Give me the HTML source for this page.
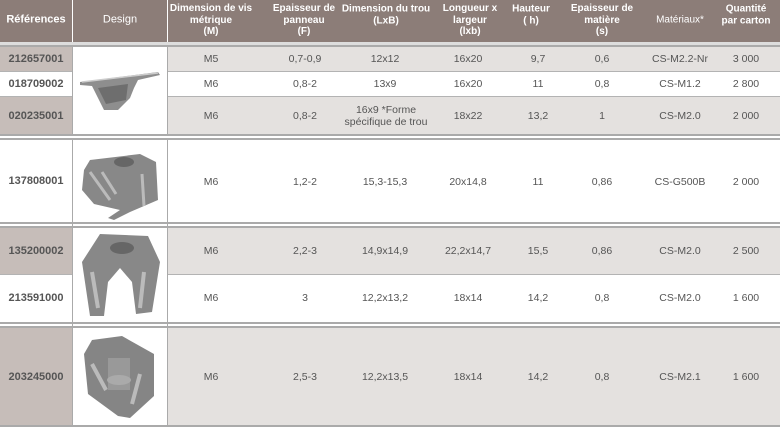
<!DOCTYPE html>
<html><head><meta charset="utf-8"><style>
body{margin:0;width:780px;height:429px;position:relative;overflow:hidden;background:#fff;font-family:"Liberation Sans",sans-serif;}
div{position:absolute;box-sizing:border-box}
.t{transform:translate(-50%,-50%);text-align:center;white-space:nowrap;font-size:10.5px;color:#555;line-height:12px}
.h{transform:translate(-50%,-50%);text-align:center;white-space:nowrap;font-size:10px;color:#fff;font-weight:bold;line-height:11.5px}
.r{transform:translate(-50%,-50%);font-size:11px;font-weight:bold;color:#555;white-space:nowrap}
.g{background:#e4e1df}
.rg{background:#c6bdb9}
.ln{background:#b3b3b3;height:1px;left:0;width:780px}
.dl{background:#aaa;height:2px;left:0;width:780px}
</style></head><body>
<div style="left:0;top:0;width:780px;height:42px;background:#8c7d78"></div>
<div style="left:72px;top:0;width:1px;height:42px;background:#fff"></div>
<div style="left:167px;top:0;width:1px;height:42px;background:#fff"></div>
<div style="left:0;top:42px;width:780px;height:3px;background:#ddd"></div>
<div class="dl" style="top:45px"></div>
<div class="h" style="left:36px;top:20px;font-size:11px">Références</div>
<div class="h" style="left:120px;top:20px;font-weight:normal;font-size:11px">Design</div>
<div class="h" style="left:211px;top:20px">Dimension de vis<br>métrique<br>(M)</div>
<div class="h" style="left:304px;top:20px">Epaisseur de<br>panneau<br>(F)</div>
<div class="h" style="left:386px;top:15px">Dimension du trou<br>(LxB)</div>
<div class="h" style="left:470px;top:20px">Longueur x<br>largeur<br>(lxb)</div>
<div class="h" style="left:531px;top:15px">Hauteur<br>( h)</div>
<div class="h" style="left:602px;top:20px">Epaisseur de<br>matière<br>(s)</div>
<div class="h" style="left:680px;top:20px;font-weight:normal">Matériaux*</div>
<div class="h" style="left:746px;top:15px">Quantité<br>par carton</div>

<!-- row backgrounds -->
<div class="rg" style="left:0;top:47px;width:72px;height:24px"></div>
<div class="g" style="left:168px;top:47px;width:612px;height:24px"></div>
<div class="rg" style="left:0;top:97px;width:72px;height:37px"></div>
<div class="g" style="left:168px;top:97px;width:612px;height:37px"></div>
<div class="rg" style="left:0;top:227px;width:72px;height:47px"></div>
<div class="g" style="left:168px;top:227px;width:612px;height:47px"></div>
<div class="rg" style="left:0;top:327px;width:72px;height:98px"></div>
<div class="g" style="left:168px;top:327px;width:612px;height:98px"></div>

<div class="ln" style="top:71px;left:0;width:73px"></div><div class="ln" style="top:71px;left:167px;width:613px"></div>
<div class="ln" style="top:96px;left:0;width:73px"></div><div class="ln" style="top:96px;left:167px;width:613px"></div>
<div class="ln" style="top:274px;left:0;width:73px"></div><div class="ln" style="top:274px;left:167px;width:613px"></div>
<div class="dl" style="top:134px"></div><div class="dl" style="top:138px"></div>
<div class="dl" style="top:222px"></div><div class="dl" style="top:226px"></div>
<div class="dl" style="top:322px"></div><div class="dl" style="top:326px"></div>
<div class="dl" style="top:425px"></div>
<div style="left:72px;top:47px;width:1px;height:378px;background:#aaa"></div>
<div style="left:167px;top:47px;width:1px;height:378px;background:#aaa"></div>
<div style="left:72px;top:134px;width:96px;height:6px;background:#fff"></div>
<div style="left:72px;top:134px;width:96px;height:2px;background:#aaa"></div>
<div style="left:72px;top:138px;width:96px;height:2px;background:#aaa"></div>

<!-- images -->
<svg style="position:absolute;left:78px;top:68px" width="86" height="46" viewBox="0 0 86 46">
<path d="M2 14 L80 4 L82 7 L60 12 L56 20 L52 30 L40 42 L26 42 L20 30 L14 18 L2 17Z" fill="#8e8e8e"/>
<path d="M20 20 L50 16 L48 32 L28 36Z" fill="#6e6e6e"/><path d="M4 14 L80 5" stroke="#ccc" stroke-width="1.5"/></svg>
<svg style="position:absolute;left:80px;top:150px" width="80" height="70" viewBox="0 0 80 70">
<path d="M10 10 L60 4 L76 12 L78 50 L50 62 L34 70 L28 68 L40 60 L14 54 L2 40 L4 20Z" fill="#888"/>
<ellipse cx="44" cy="12" rx="10" ry="5" fill="#666"/><path d="M10 22 L30 50 M22 22 L36 44 M62 24 L64 56" stroke="#bbb" stroke-width="3"/></svg>
<svg style="position:absolute;left:80px;top:232px" width="80" height="88" viewBox="0 0 80 88">
<path d="M20 2 L68 4 L80 30 L72 80 L56 82 L52 50 L40 36 L28 50 L24 84 L10 84 L2 30Z" fill="#888"/>
<ellipse cx="42" cy="16" rx="12" ry="6" fill="#666"/><path d="M12 40 L18 76 M64 40 L60 76" stroke="#bbb" stroke-width="4"/></svg>
<svg style="position:absolute;left:82px;top:334px" width="76" height="86" viewBox="0 0 76 86">
<path d="M10 6 L40 2 L72 20 L72 62 L48 84 L36 82 L6 60 L2 20Z" fill="#858585"/>
<rect x="26" y="24" width="22" height="32" fill="#999"/><ellipse cx="37" cy="46" rx="12" ry="5" fill="#aaa"/>
<path d="M10 30 L24 56 M58 40 L50 70" stroke="#bbb" stroke-width="4"/></svg>

<!-- refs -->
<div class="r" style="left:36px;top:59px">212657001</div>
<div class="r" style="left:36px;top:84px">018709002</div>
<div class="r" style="left:36px;top:116px">020235001</div>
<div class="r" style="left:36px;top:181px">137808001</div>
<div class="r" style="left:36px;top:251px">135200002</div>
<div class="r" style="left:36px;top:298px">213591000</div>
<div class="r" style="left:36px;top:377px">203245000</div>

<!-- data -->
<div class="t" style="left:211px;top:59px">M5</div><div class="t" style="left:305px;top:59px">0,7-0,9</div><div class="t" style="left:385px;top:59px">12x12</div><div class="t" style="left:468px;top:59px">16x20</div><div class="t" style="left:538px;top:59px">9,7</div><div class="t" style="left:602px;top:59px">0,6</div><div class="t" style="left:680px;top:59px">CS-M2.2-Nr</div><div class="t" style="left:746px;top:59px">3 000</div>
<div class="t" style="left:211px;top:84px">M6</div><div class="t" style="left:305px;top:84px">0,8-2</div><div class="t" style="left:385px;top:84px">13x9</div><div class="t" style="left:468px;top:84px">16x20</div><div class="t" style="left:538px;top:84px">11</div><div class="t" style="left:602px;top:84px">0,8</div><div class="t" style="left:680px;top:84px">CS-M1.2</div><div class="t" style="left:746px;top:84px">2 800</div>
<div class="t" style="left:211px;top:116px">M6</div><div class="t" style="left:305px;top:116px">0,8-2</div><div class="t" style="left:386px;top:116px">16x9 *Forme<br>spécifique de trou</div><div class="t" style="left:468px;top:116px">18x22</div><div class="t" style="left:538px;top:116px">13,2</div><div class="t" style="left:602px;top:116px">1</div><div class="t" style="left:680px;top:116px">CS-M2.0</div><div class="t" style="left:746px;top:116px">2 000</div>
<div class="t" style="left:211px;top:182px">M6</div><div class="t" style="left:305px;top:182px">1,2-2</div><div class="t" style="left:385px;top:182px">15,3-15,3</div><div class="t" style="left:468px;top:182px">20x14,8</div><div class="t" style="left:538px;top:182px">11</div><div class="t" style="left:602px;top:182px">0,86</div><div class="t" style="left:680px;top:182px">CS-G500B</div><div class="t" style="left:746px;top:182px">2 000</div>
<div class="t" style="left:211px;top:251px">M6</div><div class="t" style="left:305px;top:251px">2,2-3</div><div class="t" style="left:385px;top:251px">14,9x14,9</div><div class="t" style="left:468px;top:251px">22,2x14,7</div><div class="t" style="left:538px;top:251px">15,5</div><div class="t" style="left:602px;top:251px">0,86</div><div class="t" style="left:680px;top:251px">CS-M2.0</div><div class="t" style="left:746px;top:251px">2 500</div>
<div class="t" style="left:211px;top:298px">M6</div><div class="t" style="left:305px;top:298px">3</div><div class="t" style="left:385px;top:298px">12,2x13,2</div><div class="t" style="left:468px;top:298px">18x14</div><div class="t" style="left:538px;top:298px">14,2</div><div class="t" style="left:602px;top:298px">0,8</div><div class="t" style="left:680px;top:298px">CS-M2.0</div><div class="t" style="left:746px;top:298px">1 600</div>
<div class="t" style="left:211px;top:377px">M6</div><div class="t" style="left:305px;top:377px">2,5-3</div><div class="t" style="left:385px;top:377px">12,2x13,5</div><div class="t" style="left:468px;top:377px">18x14</div><div class="t" style="left:538px;top:377px">14,2</div><div class="t" style="left:602px;top:377px">0,8</div><div class="t" style="left:680px;top:377px">CS-M2.1</div><div class="t" style="left:746px;top:377px">1 600</div>
</body></html>
